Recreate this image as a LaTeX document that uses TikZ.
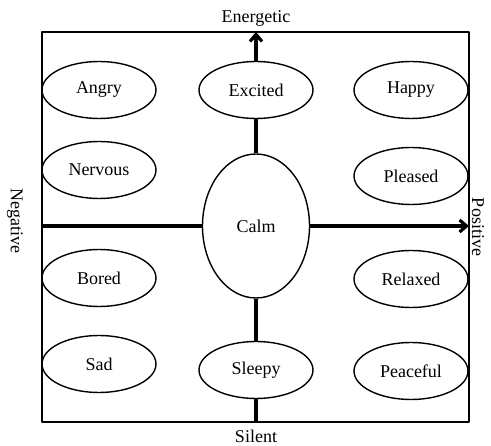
\documentclass[tikz,border=0pt]{standalone}
\usepackage{fontspec}
\setmainfont{Liberation Serif}
\usetikzlibrary{shapes.geometric,arrows.meta}
\begin{document}
\begin{tikzpicture}[x=1pt, y=-1pt, line join=round, >={Straight Barb[length=7pt,width=12pt]},
	mood/.style={draw, ellipse, line width=1.4pt, minimum width=114pt, minimum height=57pt, inner sep=0pt, font=\fontsize{18}{21}\selectfont},
	axis/.style={line width=3.2pt},
	pole/.style={font=\fontsize{18}{21}\selectfont}]
	\useasboundingbox (0,0) rectangle (491,446);
	\path
	(42,32) coordinate (NW)
	(469,422) coordinate (SE)
	(42,226) coordinate (W)
	(469,226) coordinate (E)
	(256,32) coordinate (N)
	(256,422) coordinate (S)
	;
	\draw[line width=1.4pt] (NW) rectangle (SE);
	% the twelve moods
	\node[mood] (angry) at (99,90) {Angry};
	\node[mood] (excited) at (256,90) {Excited};
	\node[mood] (happy) at (411,90) {Happy};
	\node[mood] (nervous) at (99,170) {Nervous};
	\node[mood] (pleased) at (411,176) {Pleased};
	\node[mood, minimum width=107pt, minimum height=144pt] (calm) at (256,226) {Calm};
	\node[mood] (bored) at (99,278) {Bored};
	\node[mood] (relaxed) at (411,279) {Relaxed};
	\node[mood] (sad) at (99,364) {Sad};
	\node[mood] (sleepy) at (256,370) {Sleepy};
	\node[mood] (peaceful) at (411,371) {Peaceful};
	% axes
	\draw[axis, ->] (excited) -- (N);
	\draw[axis] (excited) -- (calm);
	\draw[axis] (calm) -- (sleepy);
	\draw[axis] (sleepy) -- (S);
	\draw[axis] (W) -- (calm);
	\draw[axis, ->] (calm) -- (E);
	% poles
	\node[pole] (energetic) at (256,18) {Energetic};
	\node[pole] (silent) at (256,436) {Silent};
	\node[pole, rotate=-90] (negative) at (15,221) {Negative};
	\node[pole, rotate=-90] (positive) at (478,227) {Positive};
\end{tikzpicture}
\end{document}
